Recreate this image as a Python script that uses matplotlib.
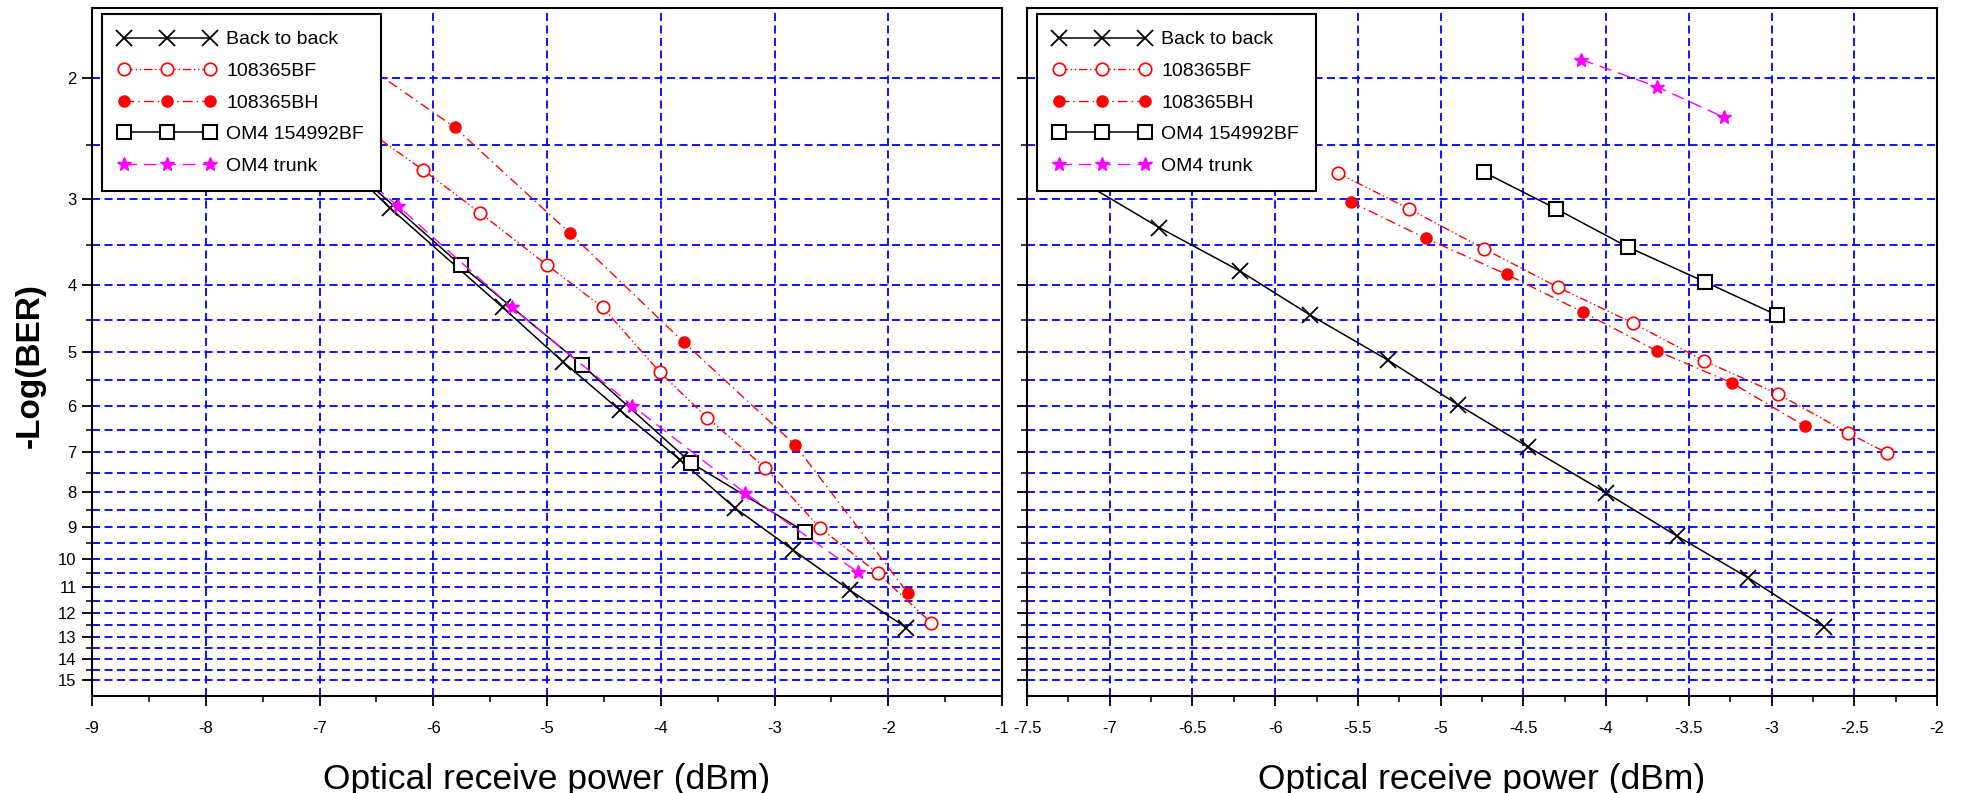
import numpy as np
import matplotlib
matplotlib.use("Agg")
import matplotlib.pyplot as plt
from matplotlib.ticker import FixedLocator, NullFormatter, FuncFormatter

plt.rcParams['font.family'] = ['Liberation Sans', 'DejaVu Sans']
plt.rcParams['axes.unicode_minus'] = False
plt.rcParams['lines.scale_dashes'] = False

# left panel data (x = dBm, y = -log(BER))
l_b2b_x = [-6.9, -6.38, -5.39, -4.86, -4.36, -3.83, -3.35, -2.84, -2.34, -1.84]
l_b2b_y = [2.55, 3.09, 4.31, 5.17, 6.08, 7.18, 8.43, 9.7, 11.1, 12.6]
l_bf_x = [-6.6, -6.09, -5.59, -5.0, -4.51, -4.01, -3.59, -3.08, -2.6, -2.09, -1.62]
l_bf_y = [2.37, 2.72, 3.14, 3.74, 4.31, 5.35, 6.24, 7.38, 9.02, 10.5, 12.4]
l_bh_x = [-6.81, -5.81, -4.80, -3.80, -2.82, -1.83]
l_bh_y = [1.81, 2.36, 3.36, 4.84, 6.83, 11.2]
l_sq_x = [-6.76, -5.76, -4.69, -3.73, -2.73]
l_sq_y = [2.67, 3.74, 5.23, 7.26, 9.14]
l_tr_x = [-7.31, -6.31, -5.31, -4.25, -3.26, -2.27]
l_tr_y = [2.24, 3.07, 4.31, 5.99, 8.02, 10.45]

# right panel data
r_b2b_x = [-7.2, -6.70, -6.21, -5.79, -5.32, -4.895, -4.47, -4.0, -3.57, -3.14, -2.68]
r_b2b_y = [2.8, 3.30, 3.82, 4.42, 5.14, 5.97, 6.88, 8.02, 9.27, 10.66, 12.56]
r_bf_x = [-5.62, -5.19, -4.74, -4.29, -3.84, -3.41, -2.96, -2.54, -2.30]
r_bf_y = [2.75, 3.10, 3.54, 4.03, 4.54, 5.15, 5.76, 6.56, 7.02]
r_bh_x = [-5.54, -5.09, -4.60, -4.14, -3.69, -3.24, -2.80]
r_bh_y = [3.03, 3.42, 3.86, 4.38, 4.99, 5.55, 6.41]
r_sq_x = [-4.74, -4.30, -3.87, -3.40, -2.97]
r_sq_y = [2.74, 3.10, 3.52, 3.96, 4.42]
r_tr_x = [-4.15, -3.69, -3.29]
r_tr_y = [1.88, 2.06, 2.28]

labels = ["Back to back", "108365BF", "108365BH", "OM4 154992BF", "OM4 trunk"]
y_major = list(range(2, 16))
y_minor = [v + 0.5 for v in range(2, 15)]

W, H = 1962, 793
fig = plt.figure(figsize=(W / 100, H / 100), dpi=100)
ax1 = fig.add_axes([92 / W, 1 - 696 / H, 910 / W, 688 / H])
ax2 = fig.add_axes([1027 / W, 1 - 696 / H, 910 / W, 688 / H])

grid_ls = (0, (5.8, 3.2))


def draw(ax, data):
    (bx, by), (fx, fy), (hx, hy), (sx, sy), (tx, ty) = data
    ax.plot(bx, by, color='black', lw=1.1, marker='x', ms=12, mew=1.3, label=labels[0])
    ax.plot(fx, fy, color='red', lw=1.0, ls=(0, (6, 2, 1, 2, 1, 2)), marker='o', ms=9,
            mfc='white', mec='red', mew=1.2, label=labels[1])
    ax.plot(hx, hy, color='red', lw=1.0, ls=(0, (7, 3, 1, 3)), marker='o', ms=8,
            mfc='red', mec='red', label=labels[2])
    ax.plot(sx, sy, color='black', lw=1.1, marker='s', ms=10, mfc='white', mec='black',
            mew=1.5, label=labels[3])
    ax.plot(tx, ty, color='magenta', lw=1.0, ls=(0, (9, 5)), marker='*', ms=10,
            mfc='magenta', mec='magenta', label=labels[4])

    ax.set_yscale('log')
    ax.set_ylim(15.83, 1.582)
    ax.yaxis.set_major_locator(FixedLocator(y_major))
    ax.yaxis.set_minor_locator(FixedLocator(y_minor))
    ax.yaxis.set_major_formatter(FuncFormatter(lambda v, p: '%g' % v))
    ax.yaxis.set_minor_formatter(NullFormatter())
    ax.xaxis.set_major_formatter(FuncFormatter(lambda v, p: '%g' % v))

    ax.grid(True, which='both', axis='y', color='blue', ls=grid_ls, lw=1.3)
    ax.grid(True, which='major', axis='x', color='blue', ls=grid_ls, lw=1.3)
    ax.set_axisbelow(True)

    ax.tick_params(which='major', direction='out', length=7, width=1.3, labelsize=12)
    ax.tick_params(which='minor', direction='out', length=4.5, width=1.1)
    ax.tick_params(axis='x', which='major', pad=11)
    ax.tick_params(axis='y', which='major', pad=4)
    for s in ax.spines.values():
        s.set_linewidth(1.5)
        s.set_color('black')

    leg = ax.legend(loc='upper left', bbox_to_anchor=(0.011, 0.991), borderaxespad=0,
                    fontsize=14, borderpad=0.85, labelspacing=0.72, handlelength=5.0,
                    handletextpad=0.55, numpoints=3, fancybox=False, framealpha=1,
                    edgecolor='black')
    leg.get_frame().set_linewidth(1.5)
    leg.set_zorder(10)


draw(ax1, [(l_b2b_x, l_b2b_y), (l_bf_x, l_bf_y), (l_bh_x, l_bh_y), (l_sq_x, l_sq_y), (l_tr_x, l_tr_y)])
draw(ax2, [(r_b2b_x, r_b2b_y), (r_bf_x, r_bf_y), (r_bh_x, r_bh_y), (r_sq_x, r_sq_y), (r_tr_x, r_tr_y)])

ax1.set_xlim(-9, -1)
ax1.xaxis.set_major_locator(FixedLocator(np.arange(-9, -0.5, 1)))
ax1.xaxis.set_minor_locator(FixedLocator(np.arange(-8.5, -1, 1)))

ax2.set_xlim(-7.5, -2)
ax2.xaxis.set_major_locator(FixedLocator(np.arange(-7.5, -1.9, 0.5)))
ax2.xaxis.set_minor_locator(FixedLocator(np.arange(-7.25, -2, 0.5)))
ax2.tick_params(axis='y', which='both', labelleft=False)

fig.text(30 / W, 1 - 366 / H, '-Log(BER)', rotation=90, fontsize=24, fontweight='bold',
         ha='center', va='center')
fig.text(547 / W, 1 - 763 / H, 'Optical receive power (dBm)', fontsize=25.5, ha='center', va='top')
fig.text(1482 / W, 1 - 763 / H, 'Optical receive power (dBm)', fontsize=25.5, ha='center', va='top')

fig.savefig('out.png', dpi=100)
